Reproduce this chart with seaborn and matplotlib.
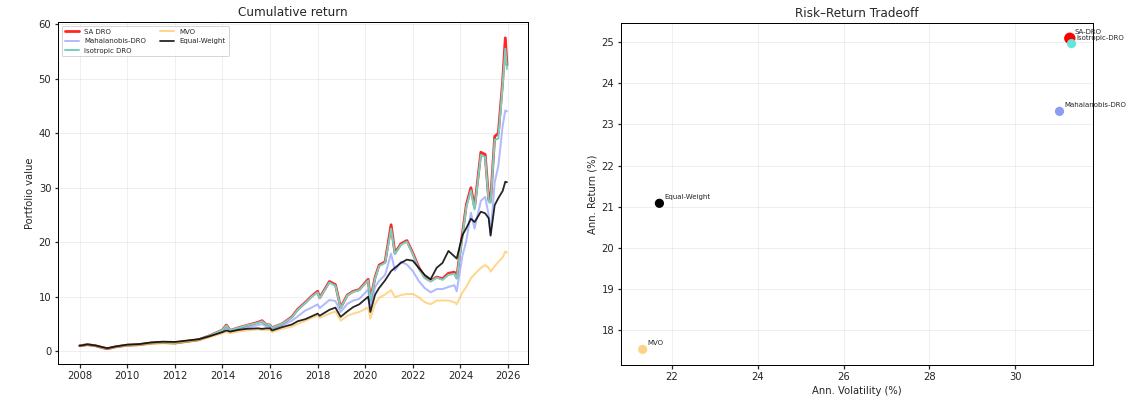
import matplotlib
matplotlib.use("Agg")
import matplotlib.pyplot as plt
import matplotlib.dates as mdates
import pandas as pd
import seaborn as sns

# values (portfolio value, start = 1)
dates = ["2008-01-01", "2008-05-01", "2008-09-01", "2009-01-01", "2009-03-01", "2009-07-01",
         "2010-01-01", "2010-07-01", "2011-01-01", "2011-07-01", "2012-01-01", "2012-07-01",
         "2013-01-01", "2013-07-01", "2014-01-01", "2014-03-01", "2014-05-01", "2014-09-01",
         "2015-01-01", "2015-07-01", "2015-09-01", "2015-11-01", "2016-01-01", "2016-02-01",
         "2016-07-01", "2016-12-01", "2017-03-01", "2017-07-01", "2017-10-01", "2018-01-01",
         "2018-02-01", "2018-07-01", "2018-10-01", "2018-12-20", "2019-04-01", "2019-07-01",
         "2019-10-01", "2020-02-15", "2020-03-20", "2020-06-01", "2020-08-01", "2020-11-01",
         "2021-02-01", "2021-04-01", "2021-07-01", "2021-10-01", "2022-01-01", "2022-04-01",
         "2022-07-01", "2022-10-01", "2023-01-01", "2023-04-01", "2023-07-01", "2023-10-01",
         "2023-11-05", "2024-02-01", "2024-04-01", "2024-06-10", "2024-08-05", "2024-11-10",
         "2025-01-15", "2025-03-10", "2025-04-08", "2025-06-10", "2025-08-05", "2025-10-10",
         "2025-11-20", "2025-12-15"]

sa_dro = [1.0, 1.2, 1.0, 0.6, 0.45, 0.8, 1.1, 1.2, 1.5, 1.6, 1.5, 1.8,
          2.1, 2.9, 3.9, 4.8, 3.8, 4.3, 4.7, 5.3, 5.6, 4.9, 4.8, 4.3,
          5.0, 6.3, 7.7, 9.0, 10.1, 11.0, 9.8, 12.8, 12.2, 8.0, 10.3, 11.0,
          11.3, 13.2, 9.4, 13.6, 15.8, 16.4, 23.2, 18.0, 19.7, 20.3, 18.0, 15.4,
          13.6, 12.9, 13.6, 13.3, 14.3, 14.5, 13.5, 21.6, 26.9, 30.0, 26.4, 36.5,
          36.1, 27.8, 27.6, 39.4, 40.0, 49.5, 57.5, 52.5]
mahalanobis_dro = [1.0, 1.2, 1.0, 0.65, 0.5, 0.8, 1.1, 1.2, 1.5, 1.6, 1.5, 1.8,
                   2.1, 2.8, 3.7, 4.3, 3.6, 4.0, 4.3, 4.8, 5.0, 4.6, 4.5, 4.1,
                   4.7, 5.6, 6.4, 7.5, 8.0, 8.6, 7.9, 9.4, 9.2, 7.2, 8.7, 9.3,
                   9.6, 11.3, 8.2, 11.8, 12.9, 14.0, 17.9, 14.8, 16.4, 15.9, 14.7, 12.9,
                   11.6, 10.8, 11.4, 11.4, 11.8, 12.1, 11.0, 17.5, 20.3, 25.4, 22.5, 27.6,
                   28.3, 25.0, 21.5, 31.0, 34.0, 41.3, 44.2, 44.0]
isotropic_dro = [1.0, 1.2, 1.0, 0.6, 0.5, 0.8, 1.1, 1.2, 1.5, 1.6, 1.5, 1.8,
                 2.1, 2.9, 3.9, 4.7, 3.8, 4.3, 4.7, 5.2, 5.5, 4.9, 4.8, 4.3,
                 5.0, 6.2, 7.6, 8.9, 10.0, 10.8, 9.7, 12.6, 12.0, 7.9, 10.2, 10.9,
                 11.2, 13.0, 9.3, 13.4, 15.6, 16.2, 22.5, 17.8, 19.5, 20.1, 17.8, 15.2,
                 13.4, 12.8, 13.5, 13.1, 14.0, 14.2, 13.3, 21.2, 26.5, 29.5, 26.0, 36.0,
                 35.6, 27.4, 27.2, 38.8, 39.0, 48.8, 55.5, 51.8]
mvo = [1.0, 1.15, 0.95, 0.65, 0.5, 0.75, 1.0, 1.1, 1.35, 1.45, 1.4, 1.7,
       2.0, 2.6, 3.3, 3.5, 3.3, 3.6, 3.8, 4.0, 3.9, 3.9, 3.9, 3.5,
       4.1, 4.5, 5.0, 5.6, 6.1, 6.5, 6.1, 6.9, 7.3, 5.6, 6.5, 6.9,
       7.2, 8.0, 6.0, 8.7, 9.8, 10.4, 11.2, 9.9, 10.3, 10.5, 10.5, 9.9,
       9.0, 8.6, 9.3, 9.3, 9.3, 9.0, 8.6, 10.8, 11.8, 13.4, 14.1, 15.3,
       15.8, 15.3, 14.6, 15.6, 16.4, 17.2, 18.3, 18.1]
equal_weight = [1.0, 1.25, 1.05, 0.7, 0.55, 0.85, 1.2, 1.3, 1.6, 1.75, 1.7, 1.95,
                2.2, 2.8, 3.5, 3.8, 3.6, 3.9, 4.1, 4.2, 4.1, 4.2, 4.2, 3.8,
                4.4, 4.9, 5.5, 5.9, 6.4, 6.9, 6.5, 7.6, 8.0, 6.3, 7.3, 8.1,
                8.6, 10.0, 7.2, 10.4, 11.6, 13.0, 14.7, 15.3, 16.2, 16.8, 16.6, 15.3,
                14.0, 13.2, 15.3, 16.2, 18.4, 17.4, 17.0, 21.3, 22.6, 24.3, 23.7, 25.6,
                25.3, 24.4, 21.2, 26.8, 28.1, 29.4, 31.1, 31.0]

# risk / return summary
strategies = ["SA-DRO", "Mahalanobis-DRO", "Isotropic-DRO", "MVO", "Equal-Weight"]
ann_vol = [31.27, 31.03, 31.31, 21.32, 21.71]
ann_ret = [25.10, 23.32, 24.97, 17.52, 21.08]

sns.set_theme(style="ticks", rc={
    "xtick.major.size": 3.5, "ytick.major.size": 3.5,
    "axes.edgecolor": "black", "axes.linewidth": 1.0,
})
plt.rcParams["font.family"] = ["DejaVu Sans"]

df = pd.DataFrame({
    "date": pd.to_datetime(dates),
    "SA DRO": sa_dro,
    "Mahalanobis-DRO": mahalanobis_dro,
    "Isotropic DRO": isotropic_dro,
    "MVO": mvo,
    "Equal-Weight": equal_weight,
})

fig = plt.figure(figsize=(1147 / 72, 402 / 72), dpi=72)
ax1 = fig.add_axes([0.0508, 0.0938, 0.4098, 0.8507])
ax2 = fig.add_axes([0.5416, 0.0920, 0.4113, 0.8515])

# Cumulative return
line_styles = {
    "SA DRO": dict(color="red", lw=2.8, alpha=0.85),
    "Mahalanobis-DRO": dict(color="#7b8cff", lw=2.0, alpha=0.6),
    "Isotropic DRO": dict(color="#78cfbc", lw=2.0, alpha=1.0),
    "MVO": dict(color="orange", lw=2.0, alpha=0.45),
    "Equal-Weight": dict(color="black", lw=1.8, alpha=0.85),
}
for name, st in line_styles.items():
    sns.lineplot(data=df, x="date", y=name, ax=ax1, label=name,
                 color=st["color"], linewidth=st["lw"], alpha=st["alpha"])

ax1.set_title("Cumulative return", fontsize=12)
ax1.set_xlabel("")
ax1.set_ylabel("Portfolio value", fontsize=10)
ax1.xaxis.set_major_locator(mdates.YearLocator(2))
ax1.xaxis.set_major_formatter(mdates.DateFormatter("%Y"))
ax1.tick_params(labelsize=10)
ax1.grid(True, alpha=0.3)
ax1.legend(loc="upper left", ncol=2, fontsize=7, framealpha=0.8)

# Risk-return tradeoff
pts = pd.DataFrame({"strategy": strategies, "vol": ann_vol, "ret": ann_ret})
pt_colors = {"SA-DRO": "red", "Mahalanobis-DRO": "#8a9df0", "Isotropic-DRO": "#66e6d9",
             "MVO": "#ffd387", "Equal-Weight": "black"}
pt_sizes = {"SA-DRO": 130, "Mahalanobis-DRO": 85, "Isotropic-DRO": 85,
            "MVO": 85, "Equal-Weight": 85}
for _, r in pts.iterrows():
    sns.scatterplot(x=[r["vol"]], y=[r["ret"]], ax=ax2, color=pt_colors[r["strategy"]],
                    s=pt_sizes[r["strategy"]], edgecolor="none")
    ax2.annotate(r["strategy"], (r["vol"], r["ret"]), xytext=(5, 4),
                 textcoords="offset points", fontsize=7)

ax2.set_title("Risk\u2013Return Tradeoff", fontsize=12)
ax2.set_xlabel("Ann. Volatility (%)", fontsize=10)
ax2.set_ylabel("Ann. Return (%)", fontsize=10)
ax2.tick_params(labelsize=10)
ax2.grid(True, alpha=0.3)

fig.savefig("out.png", dpi=72)
